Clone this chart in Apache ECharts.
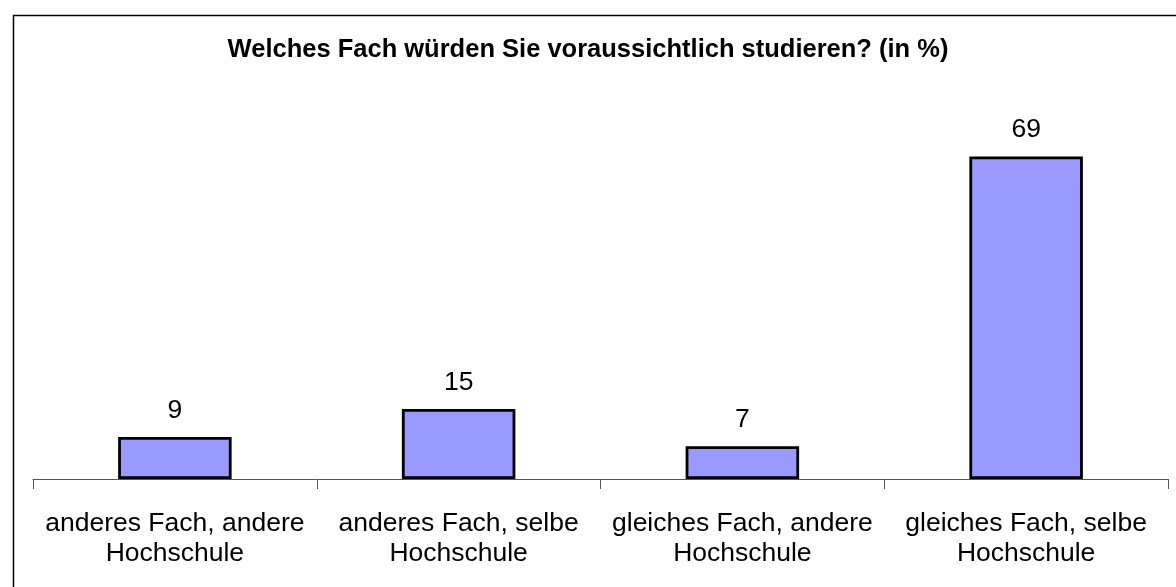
<!DOCTYPE html>
<html>
  <head>
    <meta charset="utf-8" />
    <script src="https://cdn.jsdelivr.net/npm/echarts@6/dist/echarts.min.js"></script>
  </head>
  <body>
    <style>
      #main,
      html,
      body {
        width: 100%;
        height: 100%;
        margin: 0;
        overflow: hidden;
        background: #fff;
      }
    </style>
    <div id="main"></div>
    <script type="text/javascript">
      // Daten
      var titleText = 'Welches Fach würden Sie voraussichtlich studieren? (in %)';
      var categories = [
        'anderes Fach, andere\nHochschule',
        'anderes Fach, selbe\nHochschule',
        'gleiches Fach, andere\nHochschule',
        'gleiches Fach, selbe\nHochschule'
      ];
      var values = [9, 15, 7, 69];

      var myChart = echarts.init(document.getElementById('main'));
      window.addEventListener('resize', function () {
        myChart.resize();
      });

      var option = {
        animation: false,
        textStyle: { fontFamily: 'Liberation Sans, Arial, sans-serif' },
        graphic: [
          {
            type: 'rect',
            left: 11,
            top: 13,
            shape: { width: 1220, height: 640 },
            style: { fill: 'none', stroke: '#000', lineWidth: 1.5 },
            silent: true
          }
        ],
        title: {
          text: titleText,
          left: 'center',
          top: 32,
          textStyle: { fontSize: 25.5, fontWeight: 'bold', color: '#000' }
        },
        grid: { left: 33, right: 8, top: 105, bottom: 108 },
        xAxis: {
          type: 'category',
          data: categories,
          axisLine: { lineStyle: { color: '#555', width: 1 } },
          axisTick: { show: true, length: 10, lineStyle: { color: '#555' } },
          axisLabel: {
            color: '#000',
            fontSize: 26.5,
            lineHeight: 30,
            margin: 30,
            interval: 0
          }
        },
        yAxis: {
          type: 'value',
          min: 0,
          max: 80,
          show: false,
          splitLine: { show: false }
        },
        series: [
          {
            type: 'bar',
            data: values,
            barWidth: '40%',
            itemStyle: { color: '#9999ff', borderColor: '#000', borderWidth: 2.8 },
            label: {
              show: true,
              position: 'top',
              distance: 13,
              color: '#000',
              fontSize: 26.5
            }
          }
        ]
      };

      myChart.setOption(option);
    </script>
  </body>
</html>
